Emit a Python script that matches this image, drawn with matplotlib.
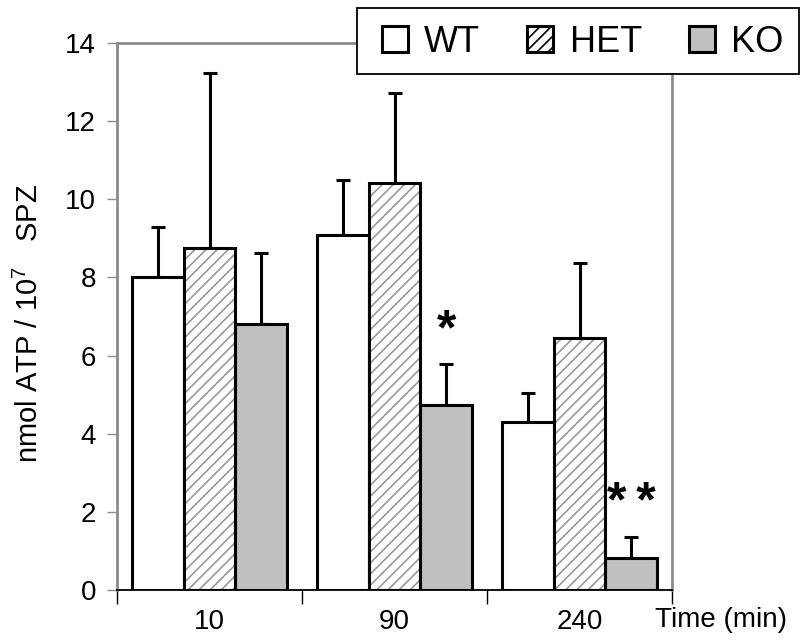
import numpy as np
import matplotlib
matplotlib.use('Agg')
import matplotlib.pyplot as plt
from matplotlib.patches import Patch, Rectangle

plt.rcParams['font.family'] = ['Liberation Sans', 'DejaVu Sans']
plt.rcParams['mathtext.fontset'] = 'custom'
plt.rcParams['mathtext.rm'] = 'Liberation Sans'
plt.rcParams['hatch.linewidth'] = 1.2

# data
times = ['10', '90', '240']
wt = [8.0, 9.08, 4.3]
wt_err = [1.3, 1.41, 0.74]
het = [8.75, 10.42, 6.45]
het_err = [4.48, 2.3, 1.92]
ko = [6.82, 4.73, 0.82]
ko_err = [1.8, 1.05, 0.54]
stars = ['', '*', '*\u2009*']

fig = plt.figure(figsize=(8, 6.4), dpi=100)
ax = fig.add_axes([117/800, 50/640, 555/800, 547/640])

x = np.arange(len(times)) + 0.5
w = 0.28
lw = 2.2
gray_spine = '#8c8c8c'
ko_col = '#c0c0c0'

# WT
ax.bar(x - w, wt, w, color='white', edgecolor='black', linewidth=lw, zorder=3)
# HET: hatch in gray, then black outline on top
ax.bar(x, het, w, color='white', edgecolor='#999999', hatch='///', linewidth=0, zorder=3)
ax.bar(x, het, w, fill=False, edgecolor='black', linewidth=lw, zorder=4)
# KO
ax.bar(x + w, ko, w, color=ko_col, edgecolor='black', linewidth=lw, zorder=3)

for off, vals, errs in [(-w, wt, wt_err), (0, het, het_err), (w, ko, ko_err)]:
    ax.errorbar(x + off, vals, yerr=[np.zeros(len(errs)), errs], fmt='none',
                ecolor='black', elinewidth=lw, capsize=5, capthick=lw, zorder=2)

for i, s in enumerate(stars):
    if s:
        ax.text(x[i] + w, ko[i] + ko_err[i] + 0.5, s, ha='center', va='baseline',
                fontsize=36, fontweight='bold')

ax.set_xlim(0, 3)
ax.set_ylim(0, 14)
ax.set_yticks(np.arange(0, 15, 2))
ax.set_xticks([0, 1, 2, 3])
ax.set_xticklabels([])
ax.set_xticks(x, minor=True)
ax.set_xticklabels(times, minor=True)
ax.tick_params(axis='x', which='major', direction='out', length=10, width=1, color='black')
ax.tick_params(axis='x', which='minor', length=0, labelsize=20, pad=14)
ax.tick_params(axis='y', direction='out', length=7, width=1, color=gray_spine,
               labelsize=20, pad=8)

for side in ['left', 'top', 'right']:
    ax.spines[side].set_color(gray_spine)
    ax.spines[side].set_linewidth(2)
ax.spines['bottom'].set_color('black')
ax.spines['bottom'].set_linewidth(1.3)

fig.text(655/800, 1 - 620/640, 'Time (min)', fontsize=20, ha='left', va='center')
fig.text(29/800, 1 - 324/640, r'nmol ATP / 10$^{7}$   SPZ', fontsize=21,
         rotation=90, ha='center', va='center')

# legend box
fig.patches.append(Rectangle((357/800, 1 - 74/640), 442/800, 66/640,
                             transform=fig.transFigure, facecolor='white',
                             edgecolor='black', linewidth=1.3, zorder=5))
handles = [Patch(facecolor='white', edgecolor='black', linewidth=lw),
           Patch(facecolor='white', edgecolor='black', linewidth=lw, hatch='///'),
           Patch(facecolor=ko_col, edgecolor='black', linewidth=lw)]
leg = fig.legend(handles, ['WT', 'HET', 'KO'], ncol=3, loc='center left',
                 bbox_to_anchor=(382/800, 1 - 42/640), fontsize=26,
                 handlelength=0.72, handleheight=0.72, handletextpad=0.45,
                 columnspacing=1.3, frameon=False,
                 borderpad=0, borderaxespad=0)
leg.set_zorder(6)

fig.savefig('out.png', dpi=100)
